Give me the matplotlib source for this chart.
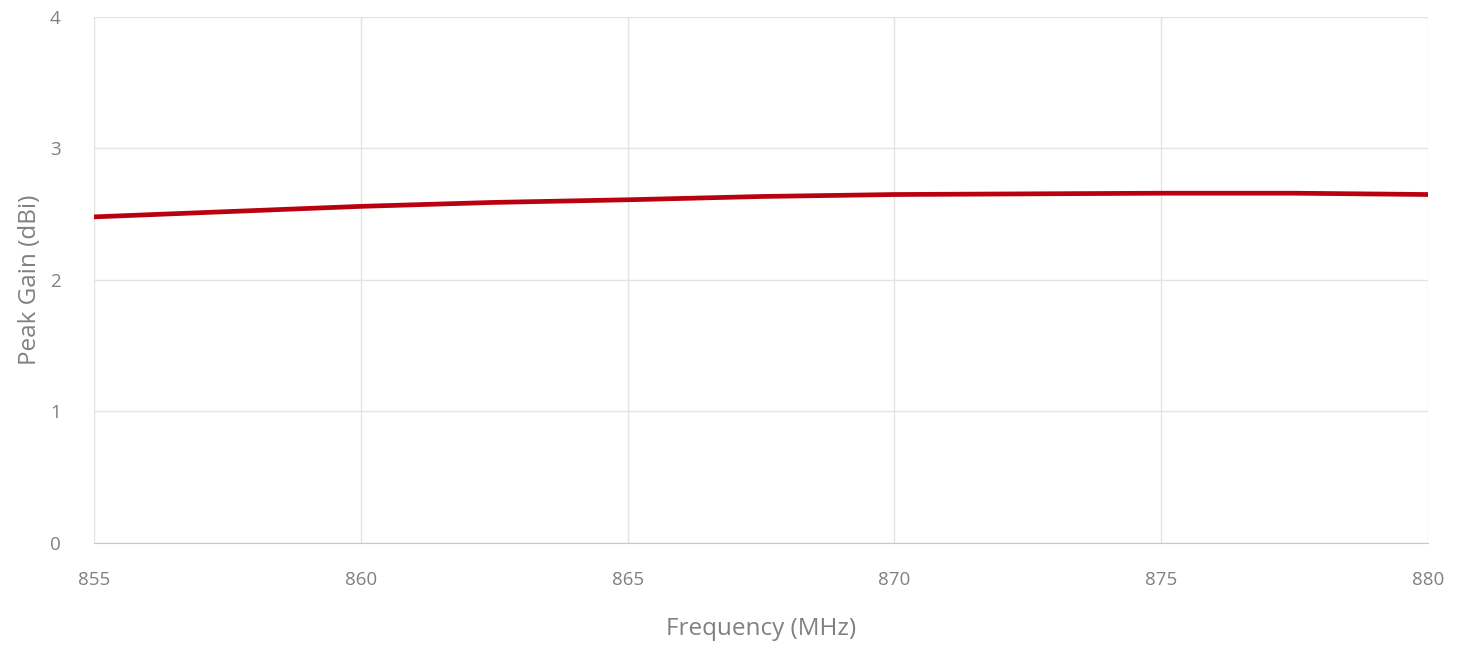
import matplotlib.pyplot as plt

# Peak gain vs frequency
freq_mhz = [855, 857.5, 860, 862.5, 865, 867.5, 870, 872.5, 875, 877.5, 880]
peak_gain_dbi = [2.48, 2.52, 2.56, 2.59, 2.61, 2.635, 2.65, 2.655, 2.66, 2.66, 2.65]

x_ticks = [855, 860, 865, 870, 875, 880]
y_ticks = [0, 1, 2, 3, 4]

plt.rcParams['font.family'] = ['Open Sans', 'DejaVu Sans']

fig = plt.figure(figsize=(14.67, 6.51), dpi=100)
ax = fig.add_axes([0.0641, 0.1659, 0.9093, 0.808])

ax.plot(freq_mhz, peak_gain_dbi, color='#B8000E', linewidth=3.4, solid_capstyle='round')

ax.set_xlim(855, 880)
ax.set_ylim(0, 4)
ax.set_xticks(x_ticks)
ax.set_yticks(y_ticks)

# light grid, no tick marks
ax.grid(True, color='#e3e3e3', linewidth=1)
ax.set_axisbelow(True)
for side in ['top', 'right', 'left']:
    ax.spines[side].set_visible(False)
ax.spines['bottom'].set_color('#c8c8c8')
ax.tick_params(length=0, labelsize=13.5, colors='#808080')
ax.tick_params(axis='x', pad=20)
ax.tick_params(axis='y', pad=24)

ax.set_xlabel('Frequency (MHz)', fontsize=17.5, color='#808080', labelpad=20)
ax.set_ylabel('Peak Gain (dBi)', fontsize=17.5, color='#808080', labelpad=6)

fig.savefig('out.png', dpi=100)
